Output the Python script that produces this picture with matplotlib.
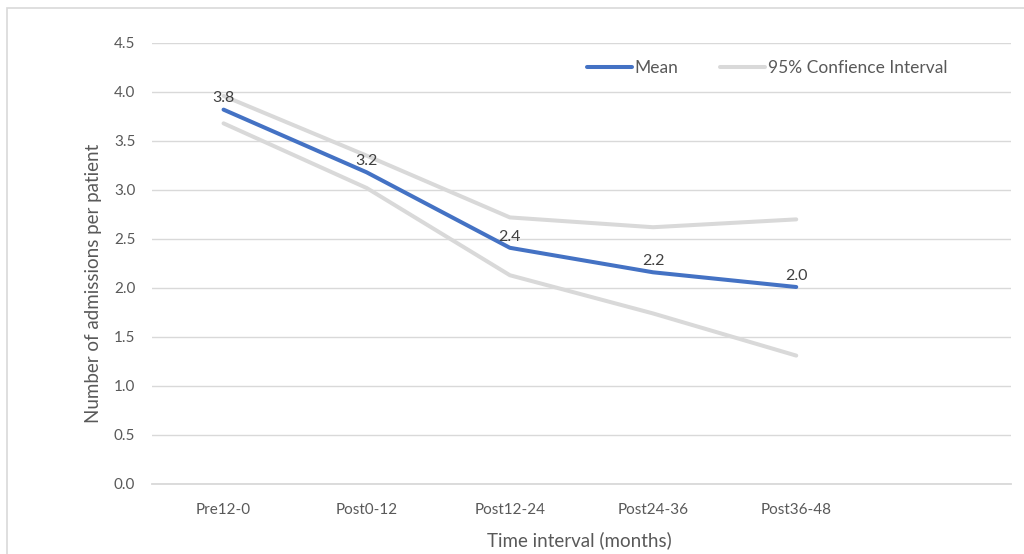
import matplotlib.pyplot as plt
from matplotlib.patches import Rectangle

plt.rcParams['font.family'] = ['Lato', 'DejaVu Sans']

categories = ["Pre12-0", "Post0-12", "Post12-24", "Post24-36", "Post36-48"]
mean = [3.82, 3.18, 2.41, 2.16, 2.01]
ci_upper = [3.96, 3.35, 2.72, 2.62, 2.70]
ci_lower = [3.68, 3.02, 2.13, 1.74, 1.31]
mean_labels = ["3.8", "3.2", "2.4", "2.2", "2.0"]

BLUE = "#4472C4"
GREY = "#D9D9D9"
TEXT = "#595959"

fig = plt.figure(figsize=(10.24, 5.54), dpi=100)
ax = fig.add_axes([0.1484, 0.1264, 0.8389, 0.796])

# outer chart frame (cropped on the right/bottom like the screenshot)
fig.patches.append(Rectangle((7 / 1024, -0.1), 1.2, 1 - 8 / 554 + 0.1,
                             transform=fig.transFigure, fill=False,
                             edgecolor=GREY, linewidth=1.2))

x = list(range(len(categories)))
ax.plot(x, mean, color=BLUE, linewidth=2.9, solid_capstyle='round',
        solid_joinstyle='round', label="Mean", zorder=3)
ax.plot(x, ci_upper, color=GREY, linewidth=2.9, solid_capstyle='round',
        solid_joinstyle='round', label="95% Confience Interval", zorder=2)
ax.plot(x, ci_lower, color=GREY, linewidth=2.9, solid_capstyle='round',
        solid_joinstyle='round', zorder=2)

for xi, yi, lab in zip(x, mean, mean_labels):
    ax.annotate(lab, (xi, yi), xytext=(0, 3), textcoords='offset points',
                ha='center', va='bottom', fontsize=11.5, color="#404040")

ax.set_xlim(-0.5, 5.5)
ax.set_ylim(0, 4.5)
ax.set_xticks(x)
ax.set_xticklabels(categories)
ax.set_yticks([i * 0.5 for i in range(10)])
ax.set_yticklabels([f"{i * 0.5:.1f}" for i in range(10)])
ax.tick_params(axis='both', length=0, colors=TEXT, labelsize=11)
ax.tick_params(axis='x', pad=14)
ax.tick_params(axis='y', pad=12)

ax.grid(axis='y', color=GREY, linewidth=1)
ax.set_axisbelow(True)
for side in ['top', 'right', 'left']:
    ax.spines[side].set_visible(False)
ax.spines['bottom'].set_color(GREY)
ax.spines['bottom'].set_linewidth(1.3)

ax.set_xlabel("Time interval (months)", fontsize=13.5, color=TEXT)
ax.xaxis.set_label_coords(0.498, -0.108)
ax.set_ylabel("Number of admissions per patient", fontsize=13.5, color=TEXT)
ax.yaxis.set_label_coords(-0.058, 0.456)

ax.legend(loc='center right', bbox_to_anchor=(0.926, 0.943), ncol=2,
          frameon=False, fontsize=12.5, handlelength=2.6, handletextpad=0.15,
          columnspacing=2.4, borderpad=0, borderaxespad=0, labelcolor=TEXT)

fig.savefig("out.png", dpi=100, facecolor='white')
